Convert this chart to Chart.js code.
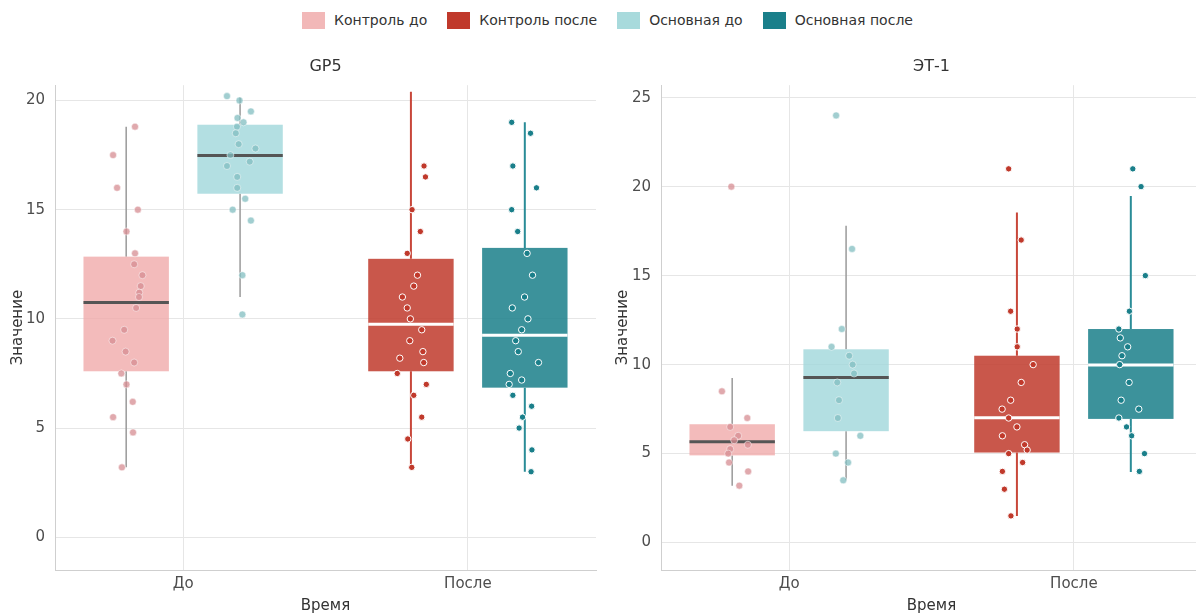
<!doctype html>
<html>
<head>
  <meta charset="utf-8">
  <script src="https://cdn.jsdelivr.net/npm/chart.js@4/dist/chart.umd.min.js"></script>
  <style>
    body { margin: 0; width: 1196px; height: 615px; overflow: hidden; position: relative; background: #fff; font-family: 'DejaVu Sans', sans-serif; }
    #legend { position: absolute; top: 0; left: 0; width: 1215px; height: 40px; display: flex; justify-content: center; align-items: center; font-size: 14px; color: #333; }
    #legend .item { display: flex; align-items: center; margin: 0 10px; }
    #legend .sw { width: 23px; height: 17px; margin-right: 9px; }
    .panel { position: absolute; top: 45px; height: 570px; }
  </style>
</head>
<body>
  <div id="legend"></div>
  <div class="panel" style="left:0; width:601px;"><canvas id="gp5"></canvas></div>
  <div class="panel" style="left:605px; width:602px;"><canvas id="et1"></canvas></div>
  <script>
    const groups = ['Контроль до', 'Контроль после', 'Основная до', 'Основная после'];
    const timeLabels = ['До', 'После'];
    const gp5Ticks = [0, 5, 10, 15, 20];
    const et1Ticks = [0, 5, 10, 15, 20, 25];

    // GP5: values, jitter, box [min, q1, median, q3, max]
    const gp5KontrolDo = [18.8, 17.5, 16, 15, 14, 13, 12.5, 12, 11.5, 11.2, 11, 10.5, 9.5, 9, 8.5, 8, 7.5, 7, 6.2, 5.5, 4.8, 3.2];
    const gp5KontrolDoJit = [0.031, -0.046, -0.032, 0.041, 0.001, 0.031, 0.028, 0.057, 0.051, 0.046, 0.045, 0.035, -0.007, -0.048, -0.002, 0.028, -0.017, 0.001, 0.023, -0.046, 0.024, -0.015];
    const gp5KontrolDoBox = [3.2, 7.6, 10.75, 12.85, 18.8];

    const gp5OsnDo = [20.2, 20, 19.5, 19.2, 19, 18.8, 18.5, 18, 17.8, 17.5, 17.2, 17, 16.5, 16, 15.5, 15, 14.5, 12, 10.2];
    const gp5OsnDoJit = [-0.046, -0.002, 0.038, -0.009, 0.012, -0.011, -0.015, -0.005, 0.054, -0.034, 0.034, -0.046, -0.010, -0.010, 0.018, -0.026, 0.038, 0.008, 0.008];
    const gp5OsnDoBox = [11.0, 15.73, 17.48, 18.89, 20.15];

    const gp5KontrolPosle = [17, 16.5, 15, 14, 13, 12, 11.5, 11, 10.5, 10, 9.5, 9, 8.5, 8.2, 8, 7.5, 7, 6.5, 5.5, 4.5, 3.2];
    const gp5KontrolPosleJit = [0.046, 0.051, 0.004, 0.033, -0.013, 0.023, 0.010, -0.030, -0.013, -0.002, 0.038, -0.004, 0.042, -0.039, 0.045, -0.048, 0.054, 0.010, 0.038, -0.011, 0.003];
    const gp5KontrolPosleBox = [3.2, 7.6, 9.75, 12.75, 20.4];

    const gp5OsnPosle = [19, 18.5, 17, 16, 15, 14, 13, 12, 11, 10.5, 10, 9.5, 9, 8.5, 8, 7.5, 7.2, 7, 6.5, 6, 5.5, 5, 4, 3];
    const gp5OsnPosleJit = [-0.046, 0.020, -0.042, 0.041, -0.046, -0.025, 0.008, 0.027, -0.001, -0.044, 0.011, -0.011, -0.032, -0.023, 0.048, -0.051, -0.011, -0.055, -0.042, 0.024, -0.008, -0.020, 0.025, 0.022];
    const gp5OsnPosleBox = [3.0, 6.85, 9.25, 13.25, 19.0];

    // ЭТ-1
    const et1KontrolDo = [20, 8.5, 7, 6.5, 6, 5.75, 5.5, 5.25, 5, 4.5, 4, 3.2];
    const et1KontrolDoJit = [-0.003, -0.036, 0.053, -0.007, 0.021, 0.007, 0.055, -0.007, -0.014, -0.011, 0.056, 0.025];
    const et1KontrolDoBox = [3.2, 4.9, 5.66, 6.65, 9.25];

    const et1OsnDo = [24, 16.5, 12, 11, 10.5, 10, 9.5, 9, 8, 7, 6, 5, 4.5, 3.5];
    const et1OsnDoJit = [-0.035, 0.021, -0.015, -0.051, 0.011, 0.023, 0.028, -0.031, -0.025, -0.029, 0.050, -0.036, 0.007, -0.010];
    const et1OsnDoBox = [3.5, 6.26, 9.27, 10.86, 17.8];

    const et1KontrolPosle = [21, 17, 13, 12, 11, 10, 9, 8, 7.5, 7, 6.5, 6, 5.5, 5.2, 5, 4.5, 4, 3, 1.5];
    const et1KontrolPosleJit = [-0.029, 0.015, -0.022, 0.001, 0.001, 0.057, 0.015, -0.022, -0.052, -0.029, 0, -0.051, 0.027, 0.036, -0.029, 0.020, -0.051, -0.044, -0.021];
    const et1KontrolPosleBox = [1.5, 5.06, 7.02, 10.5, 18.55];

    const et1OsnPosle = [21, 20, 15, 13, 12, 11.5, 11, 10.5, 10, 9, 8, 7.5, 7, 6.5, 6, 5, 4];
    const et1OsnPosleJit = [0.007, 0.036, 0.051, -0.005, -0.042, -0.037, -0.011, -0.031, -0.039, -0.006, -0.034, 0.028, -0.042, -0.015, 0.003, 0.048, 0.030];
    const et1OsnPosleBox = [3.96, 6.95, 9.98, 12.0, 19.47];

    const styles = {
      'Контроль до':    { swatch: '#f2b8b8', box: 'rgba(240,170,170,0.8)', median: '#555555', whisker: '#9a9a9a', whiskerW: 1.5, pt: 'rgba(214,140,146,0.75)', ptBorder: 'rgba(255,255,255,0.5)', r: 3.5, time: 1, dx: -0.2 },
      'Контроль после': { swatch: '#c0392b', box: 'rgba(192,57,43,0.85)',   median: '#ffffff', whisker: '#c8473a', whiskerW: 2,   pt: '#c0392b', ptBorder: '#ffffff', r: 3.2, time: 2, dx: -0.2 },
      'Основная до':    { swatch: '#a8dadc', box: 'rgba(160,215,219,0.8)',  median: '#555555', whisker: '#9a9a9a', whiskerW: 1.5, pt: 'rgba(130,190,192,0.75)', ptBorder: 'rgba(255,255,255,0.5)', r: 3.5, time: 1, dx: 0.2 },
      'Основная после': { swatch: '#1a7f8a', box: 'rgba(26,127,138,0.85)',  median: '#ffffff', whisker: '#2a8c97', whiskerW: 2,   pt: '#1a7f8a', ptBorder: '#ffffff', r: 3.2, time: 2, dx: 0.2 }
    };
    const BOX_HALF = 0.15;

    // legend
    const legendEl = document.getElementById('legend');
    groups.forEach(g => {
      const it = document.createElement('div');
      it.className = 'item';
      it.innerHTML = '<span class="sw" style="background:' + styles[g].swatch + '"></span><span>' + g + '</span>';
      legendEl.appendChild(it);
    });

    const boxPlugin = {
      id: 'boxes',
      beforeDatasetsDraw(chart) {
        const { ctx, scales: { x, y } } = chart;
        ctx.save();
        chart.data.datasets.forEach(ds => {
          const b = ds.box, st = styles[ds.label];
          const c = st.time + st.dx;
          const xl = x.getPixelForValue(c - BOX_HALF), xr = x.getPixelForValue(c + BOX_HALF), xc = x.getPixelForValue(c);
          ctx.strokeStyle = st.whisker;
          ctx.lineWidth = st.whiskerW;
          ctx.beginPath();
          ctx.moveTo(xc, y.getPixelForValue(b[0])); ctx.lineTo(xc, y.getPixelForValue(b[1]));
          ctx.moveTo(xc, y.getPixelForValue(b[3])); ctx.lineTo(xc, y.getPixelForValue(b[4]));
          ctx.stroke();
          ctx.fillStyle = st.box;
          const top = y.getPixelForValue(b[3]), bot = y.getPixelForValue(b[1]);
          ctx.fillRect(xl, top, xr - xl, bot - top);
          ctx.strokeStyle = st.median;
          ctx.lineWidth = 3;
          ctx.beginPath();
          const ym = y.getPixelForValue(b[2]);
          ctx.moveTo(xl, ym); ctx.lineTo(xr, ym);
          ctx.stroke();
        });
        ctx.restore();
      }
    };

    function makeSet(label, values, jit, box) {
      const st = styles[label];
      return {
        label: label,
        box: box,
        data: values.map((v, i) => ({ x: st.time + st.dx + jit[i], y: v })),
        pointRadius: st.r,
        pointBackgroundColor: st.pt,
        pointBorderColor: st.ptBorder,
        pointBorderWidth: 1
      };
    }

    function makeChart(id, title, sets, yMin, yMax, yTicks, yWidth) {
      const font = { family: 'DejaVu Sans', size: 15 };
      new Chart(document.getElementById(id), {
        type: 'scatter',
        data: { datasets: sets },
        plugins: [boxPlugin],
        options: {
          responsive: true,
          maintainAspectRatio: false,
          animation: false,
          layout: { padding: 0 },
          plugins: {
            legend: { display: false },
            tooltip: { enabled: false },
            title: { display: true, fullSize: false, text: title, color: '#333', font: { family: 'DejaVu Sans', size: 16, weight: 'normal' }, padding: { top: 12, bottom: 9 } }
          },
          scales: {
            x: {
              type: 'linear', min: 0.55, max: 2.45,
              afterBuildTicks: s => { s.ticks = timeLabels.map((t, i) => ({ value: i + 1 })); },
              afterFit: s => { s.height = 45; },
              ticks: { callback: (v) => timeLabels[Math.round(v) - 1], color: '#4d4d4d', font: font, padding: 5, maxRotation: 0 },
              grid: { color: '#e6e6e6', drawTicks: false },
              border: { display: true, color: '#cfcfcf' },
              title: { display: true, text: 'Время', color: '#333', font: font, padding: 0 }
            },
            y: {
              type: 'linear', min: yMin, max: yMax,
              afterBuildTicks: s => { s.ticks = yTicks.map(v => ({ value: v })); },
              afterFit: s => { s.width = yWidth; },
              ticks: { color: '#4d4d4d', font: font, padding: 10 },
              grid: { color: '#e6e6e6', drawTicks: false },
              border: { display: true, color: '#cfcfcf' },
              title: { display: true, text: 'Значение', color: '#333', font: font, padding: { top: 9, bottom: 0 } }
            }
          }
        }
      });
    }

    makeChart('gp5', 'GP5', [
      makeSet('Контроль до', gp5KontrolDo, gp5KontrolDoJit, gp5KontrolDoBox),
      makeSet('Основная до', gp5OsnDo, gp5OsnDoJit, gp5OsnDoBox),
      makeSet('Контроль после', gp5KontrolPosle, gp5KontrolPosleJit, gp5KontrolPosleBox),
      makeSet('Основная после', gp5OsnPosle, gp5OsnPosleJit, gp5OsnPosleBox)
    ], -1.5, 20.7, gp5Ticks, 55);

    makeChart('et1', 'ЭТ-1', [
      makeSet('Контроль до', et1KontrolDo, et1KontrolDoJit, et1KontrolDoBox),
      makeSet('Основная до', et1OsnDo, et1OsnDoJit, et1OsnDoBox),
      makeSet('Контроль после', et1KontrolPosle, et1KontrolPosleJit, et1KontrolPosleBox),
      makeSet('Основная после', et1OsnPosle, et1OsnPosleJit, et1OsnPosleBox)
    ], -1.54, 25.7, et1Ticks, 56);
  </script>
</body>
</html>
